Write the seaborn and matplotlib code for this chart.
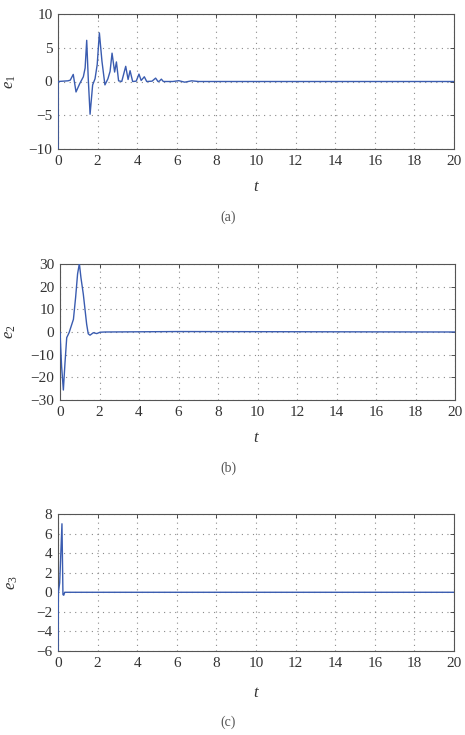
import matplotlib
matplotlib.use("Agg")
import matplotlib.pyplot as plt
import seaborn as sns
import pandas as pd

# ---- data ----
e1_t = [0, 0, 0.5, 0.62, 0.77, 0.91, 1.1, 1.28, 1.37, 1.45, 1.53, 1.62, 1.75, 1.87, 1.98,
        2.09, 2.22, 2.37, 2.52, 2.63, 2.73, 2.86, 2.95, 3.06, 3.22, 3.42, 3.54, 3.64, 3.77,
        3.95, 4.09, 4.2, 4.36, 4.48, 4.75, 4.93, 5.05, 5.12, 5.22, 5.32, 5.8, 6.1, 6.4,
        6.75, 7.1, 20]
e1_v = [-10, 0, 0.1, 0.2, 1.05, -1.55, -0.3, 0.7, 2.0, 6.1, 0.3, -4.85, -0.5, 0.4, 2.5,
        7.2, 3.0, -0.5, 0.4, 1.5, 4.2, 1.4, 2.9, 0.1, 0.0, 2.25, 0.3, 1.6, 0.0,
        0.05, 1.1, 0.15, 0.7, 0.0, 0.05, 0.5, 0.0, 0.05, 0.35, 0.0, 0.0, 0.12, -0.1,
        0.1, 0.0, 0.0]

e2_t = [0, 0.08, 0.17, 0.25, 0.34, 0.46, 0.68, 0.79, 0.89, 0.98, 1.06, 1.18, 1.35,
        1.43, 1.52, 1.69, 1.86, 2.03, 2.28, 6.0, 20]
e2_v = [0, -15, -25.6, -14, -2.5, -0.3, 5.6, 15.2, 25.6, 30.2, 24, 16.7, 3.4,
        -0.8, -1.4, -0.3, -0.7, -0.1, 0, 0.2, 0]

e3_t = [0, 0.02, 0.085, 0.2, 0.25, 0.29, 0.34, 20]
e3_v = [-6, 0, 0.97, 7.0, -0.24, -0.3, 0, 0]

ylabels = ["$e_1$", "$e_2$", "$e_3$"]
captions = ["(a)", "(b)", "(c)"]
ylims = [(-10, 10), (-30, 30), (-6, 8)]
yticks = [[-10, -5, 0, 5, 10], [-30, -20, -10, 0, 10, 20, 30], [-6, -4, -2, 0, 2, 4, 6, 8]]
xticks = list(range(0, 21, 2))

sns.set_style("white")
plt.rcParams["font.family"] = ["Liberation Serif", "DejaVu Serif"]
plt.rcParams["mathtext.fontset"] = "custom"
plt.rcParams["mathtext.it"] = "Liberation Serif:italic"
plt.rcParams["mathtext.rm"] = "Liberation Serif"

fig = plt.figure(figsize=(4.65, 7.35), dpi=100)

# axes rectangles in figure pixels: (left, top, right, bottom)
rects = [(58, 14, 454, 149), (60, 264, 455, 400), (58, 514, 454, 651)]
ylabel_x = [10, 10, 12]
t_label_y = [187, 438, 693]
cap_y = [217, 468, 722]
W, H = 465, 735

series = [(e1_t, e1_v), (e2_t, e2_v), (e3_t, e3_v)]
line_color = "#3a5cb0"

for i, (l, t, r, b) in enumerate(rects):
    ax = fig.add_axes([l / W, 1 - b / H, (r - l) / W, (b - t) / H])
    df = pd.DataFrame({"t": series[i][0], "e": series[i][1]})
    sns.lineplot(data=df, x="t", y="e", ax=ax, sort=False, estimator=None,
                 color=line_color, linewidth=1.0, zorder=3)
    ax.set_xlim(0, 20)
    ax.set_ylim(*ylims[i])
    ax.set_xticks(xticks)
    ax.set_yticks(yticks[i])
    ax.grid(True, color="#8a8a8a", linestyle=(0, (1, 4)), linewidth=0.8)
    ax.tick_params(direction="in", length=3, width=0.6, top=True, right=True,
                   labelsize=11, colors="#333333", pad=4)
    for s in ax.spines.values():
        s.set_color("#555555")
        s.set_linewidth(0.8)
        s.set_visible(True)
    ax.set_xlabel("")
    ax.set_ylabel("")
    fig.text(ylabel_x[i] / W, 1 - (t + b) / 2 / H, ylabels[i], fontsize=12,
             color="#333333", rotation=90, ha="center", va="center")
    fig.text(256 / W, 1 - t_label_y[i] / H, "$t$", fontsize=12, color="#333333",
             ha="center", va="center")
    fig.text(228 / W, 1 - cap_y[i] / H, captions[i], fontsize=10, color="#555555",
             ha="center", va="center")

fig.savefig("out.png", dpi=100)
